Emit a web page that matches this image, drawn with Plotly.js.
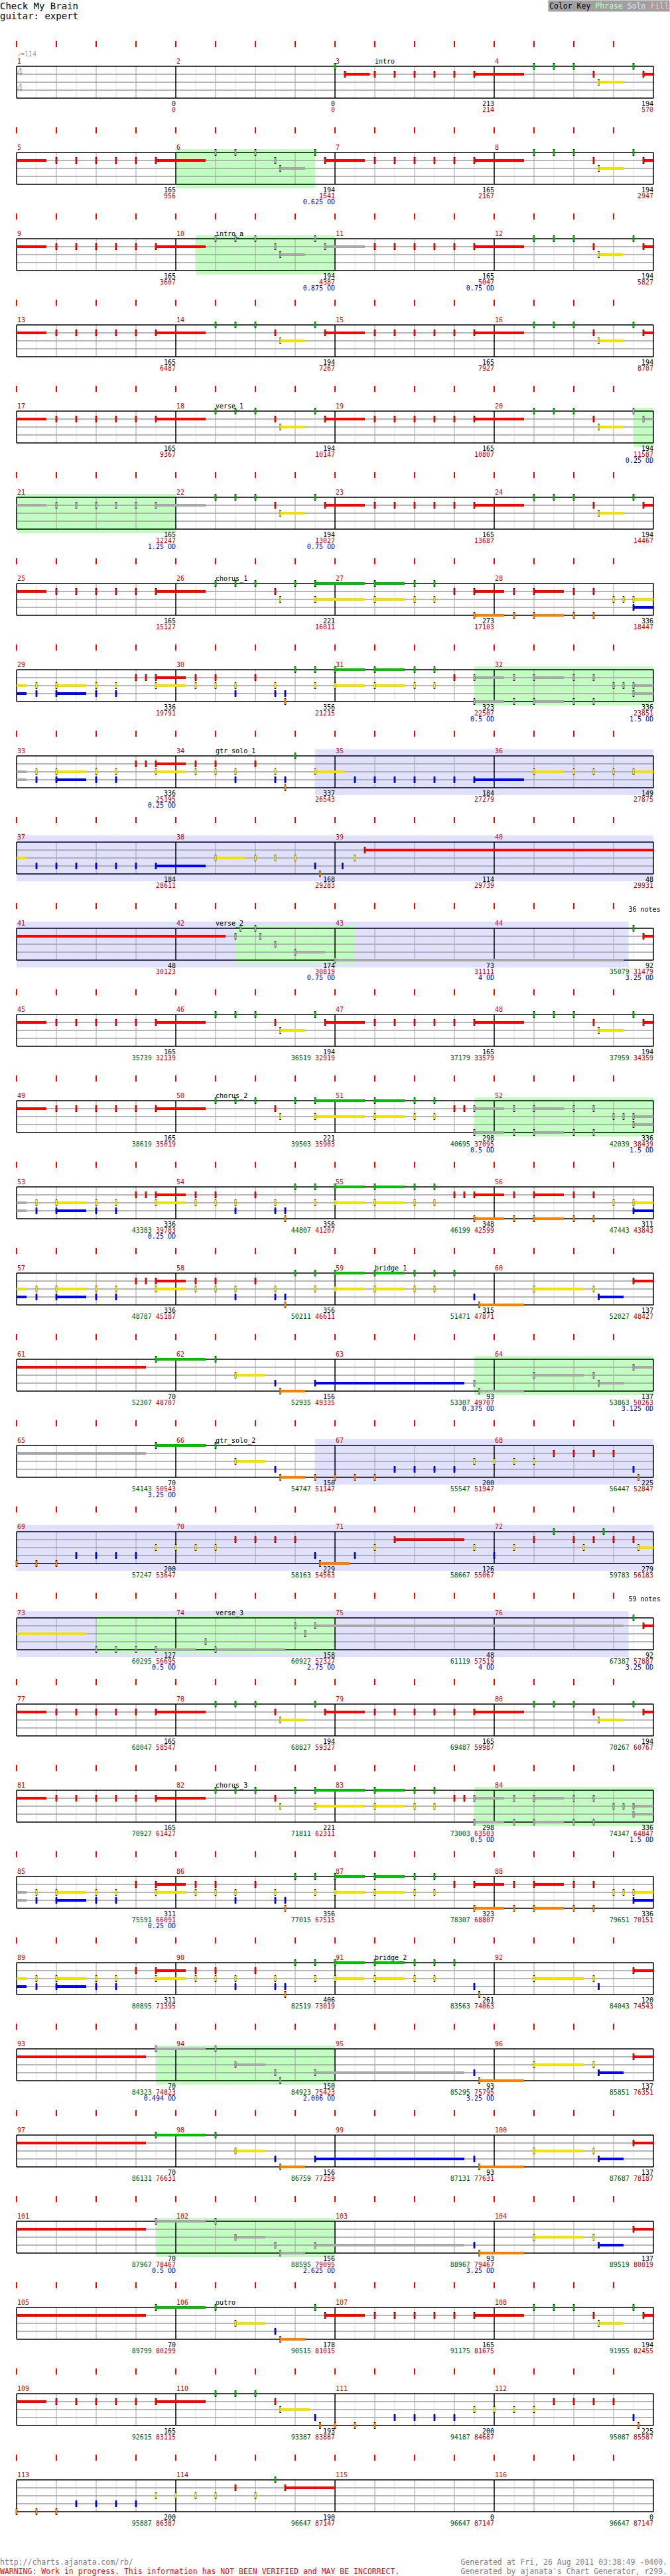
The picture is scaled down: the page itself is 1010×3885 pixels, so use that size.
<!DOCTYPE html>
<html><head><meta charset="utf-8">
<script src="https://cdn.plot.ly/plotly-3.0.1.min.js"></script>
<style>html,body{margin:0;padding:0;background:#fff}#chart{width:1010px;height:3885px}</style>
</head><body><div id="chart"></div>
<script>
// ---------------- DATA ----------------
const songTitle = 'Check My Brain';
const partLabel = 'guitar: expert';
const tempoLabel = '\u2669=114';
const timeSig = ['4', '4'];
const measureCount = 116;

const sections = [[3,1,'intro'],[10,1,'intro_a'],[18,1,'verse_1'],[26,1,'chorus_1'],[34,1,'gtr_solo_1'],
  [42,1,'verse_2'],[50,1,'chorus_2'],[59,1,'bridge_1'],[66,1,'gtr_solo_2'],[74,1,'verse_3'],
  [82,1,'chorus_3'],[91,1,'bridge_2'],[106,1,'outro']];

// star power phrases: [startMeasure, startBeat, endMeasure, endBeat]
const phrases = [[6,0,6,3.5],[10,0.5,11,0],[20,3.5,22,0],[31,3.5,33,0],[42,1.5,43,0.5],[51,3.5,53,0],
  [63,3.5,65,0],[73,2,75,0],[83,3.5,85,0],[93,3.5,95,0],[101,3.5,103,0]];
const solos = [[34,3.5,44,3.375],[66,3.5,76,3.375]];
const soloNoteLabels = ['36 notes', '59 notes'];

// notes: [measure, beat, frets, sustainBeats]
const riffA = [[1,'R',0],[1.5,'R',0],[2,'R',0],[2.5,'R',0],[3,'R',0],[3.5,'R',1.25]];
const riffB = [[1,'G',0],[1.5,'G',0],[2,'G',0],[2.5,'R',0],[2.625,'Y',0.625],[3.5,'G',0],[3.75,'R',1]];
const riffC = [[1,'G',0],[1.5,'G',0],[2,'G',0],[2.5,'R',0],[2.625,'Y',0],[3,'G',0],[3.5,'GY',1.25]];
const riffAMeasures = [3,5,7,9,11,13,15,17,19,21,23,25,45,47,49,77,79,81,107,109];
const riffBMeasures = [4,6,8,10,12,14,16,18,20,22,24,46,48,78,80,108];
const riffCMeasures = [26,50,82];

const introNotes = [[3,0,'G',0],[3,0.25,'R',0.625]];

const chorus1Notes = [
 [27,1,'GY',.75],[27,2,'GY',0],[27,2.5,'GY',0],[27,3,'R',0],[27,3.5,'RO',.75],
 [28,.5,'RO',0],[28,1,'RO',.75],[28,2,'RO',0],[28,2.5,'RO',0],[28,3,'Y',0],[28,3.25,'Y',0],[28,3.5,'YB',.75],
 [29,.5,'YB',0],[29,1,'YB',.75],[29,2,'YB',0],[29,2.5,'YB',0],[29,3,'R',0],[29,3.25,'R',0],[29,3.5,'RY',.75],
 [30,.5,'RY',0],[30,1,'RY',0],[30,1.5,'YB',0],[30,2,'R',0],[30,2.5,'YB',0],[30,2.75,'BO',0],[30,3,'G',0],[30,3.5,'GY',0],
 [31,0,'GY',.75],[31,1,'GY',.75],[31,2,'GY',0],[31,2.5,'GY',0],[31,3,'R',0],[31,3.5,'RO',.75],
 [32,.5,'RO',0],[32,1,'RO',.75],[32,2,'RO',0],[32,2.5,'RO',0],[32,3,'Y',0],[32,3.25,'Y',0],[32,3.5,'YB',.75],
 [33,.5,'YB',0],[33,1,'YB',.75],[33,2,'YB',0],[33,2.5,'YB',0],[33,3,'R',0],[33,3.25,'R',0],[33,3.5,'RY',.75],
 [34,.5,'RY',0],[34,1,'RY',0],[34,1.5,'YB',0],[34,2,'R',0],[34,2.5,'YB',0],[34,2.75,'BO',0],[34,3,'G',0]
];

const solo1Notes = [
 [34,3.5,'Y',.75],
 [35,.5,'B',0],[35,1,'B',0],[35,1.5,'B',0],[35,2,'B',0],[35,2.5,'B',0],[35,3,'B',0],[35,3.5,'B',1.25],
 [36,1,'Y',.75],[36,2,'Y',0],[36,2.5,'Y',0],[36,3,'Y',0],[36,3.5,'Y',.75],
 [37,.5,'B',0],[37,1,'B',0],[37,1.5,'B',0],[37,2,'B',0],[37,2.5,'B',0],[37,3,'B',0],[37,3.5,'B',1.25],
 [38,1,'Y',.75],[38,2,'Y',0],[38,2.5,'Y',0],[38,3,'Y',0],[38,3.5,'B',0],[38,3.625,'O',0],
 [39,.1875,'B',0],[39,.5,'Y',0],[39,.75,'R',12.5]
];

const verse2Notes = [
 [42,1.5,'R',0],[42,1.625,'G',0],[42,2,'G',0],[42,2.125,'R',0],[42,2.5,'Y',0],[42,3,'B',.75],
 [43,0,'O',7.25],
 [44,3.5,'G',0],[44,3.75,'R',1]
];

const chorus2Notes = [
 [51,1,'GY',.75],[51,2,'GY',0],[51,2.5,'GY',0],[51,3,'R',0],[51,3.25,'R',0],[51,3.5,'RO',.75],
 [52,.5,'RO',0],[52,1,'RO',.75],[52,2,'RO',0],[52,2.5,'RO',0],[52,3,'Y',0],[52,3.25,'Y',0],[52,3.5,'YB',.75],
 [53,.5,'YB',0],[53,1,'YB',.75],[53,2,'YB',0],[53,2.5,'YB',0],[53,3,'R',0],[53,3.25,'R',0],[53,3.5,'RY',.75],
 [54,.5,'RY',0],[54,1,'RY',0],[54,1.5,'YB',0],[54,2,'R',0],[54,2.5,'YB',0],[54,2.75,'BO',0],[54,3,'G',0],[54,3.5,'GY',0],
 [55,0,'GY',.75],[55,1,'GY',.75],[55,2,'GY',0],[55,2.5,'GY',0],[55,3,'R',0],[55,3.25,'R',0],[55,3.5,'RO',.75],
 [56,.5,'RO',0],[56,1,'RO',.75],[56,2,'RO',0],[56,2.5,'RO',0],[56,3,'Y',0],[56,3.5,'YB',.75],
 [57,.5,'YB',0],[57,1,'YB',.75],[57,2,'YB',0],[57,2.5,'YB',0],[57,3,'R',0],[57,3.25,'R',0],[57,3.5,'RY',.75],
 [58,.5,'RY',0],[58,1,'RY',0],[58,1.5,'YB',0],[58,2,'R',0],[58,2.5,'YB',0],[58,2.75,'BO',0],[58,3,'G',0],[58,3.5,'GY',0]
];

const bridge1Notes = [
 [59,0,'GY',.75],[59,1,'GY',.75],[59,2,'GY',0],[59,2.5,'GY',0],[59,3,'G',0],[59,3.5,'B',0],[59,3.625,'O',1.125],
 [60,1,'Y',1.25],[60,2.5,'Y',0],[60,2.625,'B',.625],[60,3.5,'R',3.75],
 [61,3.5,'G',1.25],
 [62,1,'G',0],[62,1.5,'Y',.75],[62,2.5,'B',0],[62,2.625,'O',.625],[62,3.5,'B',3.75],
 [63,3.5,'B',0],[63,3.625,'O',1.125],
 [64,1,'Y',1.25],[64,2.5,'Y',0],[64,2.625,'B',.625],[64,3.5,'R',3.75],
 [65,3.5,'G',1.25],
 [66,1,'G',0],[66,1.5,'Y',.75],[66,2.5,'B',0],[66,2.625,'O',.625]
];

const solo2Notes = [
 [66,3.5,'O',0],
 [67,0,'O',0],[67,.5,'O',0],[67,1,'O',0],[67,1.5,'B',0],[67,2,'B',0],[67,2.5,'B',0],[67,3,'B',0],[67,3.5,'Y',0],
 [68,0,'Y',0],[68,.5,'Y',0],[68,1,'Y',0],[68,1.5,'R',0],[68,2,'R',0],[68,2.5,'R',0],[68,3,'R',0],[68,3.5,'B',0],[68,3.625,'O',0],
 [69,0,'O',0],[69,.5,'O',0],[69,1,'O',0],[69,1.5,'B',0],[69,2,'B',0],[69,2.5,'B',0],[69,3,'B',0],[69,3.5,'Y',0],
 [70,0,'Y',0],[70,.5,'Y',0],[70,1,'Y',0],[70,1.5,'R',0],[70,2,'R',0],[70,2.5,'R',0],[70,3,'R',0],[70,3.5,'B',0],[70,3.625,'O',.75],
 [71,.5,'B',0],[71,1,'Y',0],[71,1.5,'R',1.75],[71,3.5,'Y',0],
 [72,0,'B',0],[72,.5,'Y',0],[72,1,'R',0],[72,1.5,'G',0],[72,2,'R',0],[72,2.25,'Y',0],[72,2.5,'R',0],[72,2.75,'G',0],[72,3,'R',0],[72,3.5,'R',0],[72,3.625,'Y',2.125],
 [73,2,'O',0],[73,2.5,'O',0],[73,3,'O',0],[73,3.5,'O',1],
 [74,.75,'B',0],[74,1,'O',1.75],[74,3,'R',0],[74,3.25,'Y',0],[74,3.5,'R',7.75]
];

const verse3Notes = [[76,3.5,'G',0],[76,3.75,'R',1]];

const chorus3Notes = [
 [83,1,'GY',.75],[83,2,'GY',0],[83,2.5,'GY',0],[83,3,'R',0],[83,3.25,'R',0],[83,3.5,'RO',.75],
 [84,.5,'RO',0],[84,1,'RO',.75],[84,2,'RO',0],[84,2.5,'RO',0],[84,3,'Y',0],[84,3.25,'Y',0],[84,3.5,'YB',.75],
 [85,.5,'YB',0],[85,1,'YB',.75],[85,2,'YB',0],[85,2.5,'YB',0],[85,3,'R',0],[85,3.5,'RY',.75],
 [86,.5,'RY',0],[86,1,'RY',0],[86,1.5,'YB',0],[86,2,'R',0],[86,2.5,'YB',0],[86,2.75,'BO',0],[86,3,'G',0],[86,3.5,'GY',0],
 [87,0,'GY',.75],[87,1,'GY',.75],[87,2,'GY',0],[87,2.5,'GY',0],[87,3,'R',0],[87,3.5,'RO',.75],
 [88,.5,'RO',0],[88,1,'RO',.75],[88,2,'RO',0],[88,2.5,'RO',0],[88,3,'Y',0],[88,3.25,'Y',0],[88,3.5,'YB',.75],
 [89,.5,'YB',0],[89,1,'YB',.75],[89,2,'YB',0],[89,2.5,'YB',0],[89,3,'R',0],[89,3.5,'RY',.75],
 [90,.5,'RY',0],[90,1,'RY',0],[90,1.5,'YB',0],[90,2,'R',0],[90,2.5,'YB',0],[90,2.75,'BO',0],[90,3,'G',0],[90,3.5,'GY',0]
];

const bridge2Notes = [
 [91,0,'GY',.75],[91,1,'GY',.75],[91,2,'GY',0],[91,2.5,'GY',0],[91,3,'G',0],[91,3.5,'B',0],[91,3.625,'O',0],
 [92,1,'Y',1.25],[92,2.5,'Y',0],[92,2.625,'B',0],[92,3.5,'R',3.75],
 [93,3.5,'G',1.25],
 [94,1,'G',0],[94,1.5,'Y',.75],[94,2.5,'B',0],[94,2.625,'O',0],[94,3.5,'B',3.75],
 [95,3.5,'B',0],[95,3.625,'O',1.125],
 [96,1,'Y',1.25],[96,2.5,'Y',0],[96,2.625,'B',.625],[96,3.5,'R',3.75],
 [97,3.5,'G',1.25],
 [98,1,'G',0],[98,1.5,'Y',.75],[98,2.5,'B',0],[98,2.625,'O',.625],[98,3.5,'B',3.75],
 [99,3.5,'B',0],[99,3.625,'O',1.125],
 [100,1,'Y',1.25],[100,2.5,'Y',0],[100,2.625,'B',.625],[100,3.5,'R',3.75],
 [101,3.5,'G',1.25],
 [102,1,'G',0],[102,1.5,'Y',.75],[102,2.5,'B',0],[102,2.625,'O',.625],[102,3.5,'B',3.75],
 [103,3.5,'B',0],[103,3.625,'O',1.125],
 [104,1,'Y',1.25],[104,2.5,'Y',0],[104,2.625,'B',.625],[104,3.5,'R',3.75],
 [105,3.5,'G',1.25]
];

const outroNotes = [
 [106,1,'G',0],[106,1.5,'Y',.75],[106,2.5,'B',0],[106,2.625,'O',.625],[106,3.5,'G',0],[106,3.75,'R',1],
 [110,1,'G',0],[110,1.5,'G',0],[110,2,'G',0],[110,2.5,'R',0],[110,2.625,'Y',.75],[110,3.5,'B',0],[110,3.625,'O',0],
 [111,0,'O',0],[111,.5,'O',0],[111,1,'O',0],[111,1.5,'B',0],[111,2,'B',0],[111,2.5,'B',0],[111,3,'B',0],[111,3.5,'Y',0],
 [112,0,'Y',0],[112,.5,'Y',0],[112,1,'Y',0],[112,1.5,'R',0],[112,2,'R',0],[112,2.5,'R',0],[112,3,'R',0],[112,3.5,'B',0],[112,3.625,'O',0],
 [113,0,'O',0],[113,.5,'O',0],[113,1,'O',0],[113,1.5,'B',0],[113,2,'B',0],[113,2.5,'B',0],[113,3,'B',0],[113,3.5,'Y',0],
 [114,0,'Y',0],[114,.5,'Y',0],[114,1,'Y',0],[114,1.5,'R',0],[114,2,'Y',0],[114,2.5,'G',0],[114,2.75,'R',1.25]
];

// per-measure scores
const measureScores = [0,0,213,194, 165,194,165,194, 165,194,165,194, 165,194,165,194, 165,194,165,194,
  165,194,165,194, 165,221,273,336, 336,356,323,336, 336,337,184,149, 184,168,114,48, 48,174,73,92,
  165,194,165,194, 165,221,298,336, 336,356,348,311, 336,356,315,137, 70,156,93,137, 70,150,200,225,
  200,229,126,279, 127,158,48,92, 165,194,165,194, 165,221,298,336, 311,356,323,336, 311,406,261,120,
  70,150,93,137, 70,156,93,137, 70,156,93,137, 70,178,165,194, 165,193,200,225, 200,190,0,0];
const totalScores = [0,0,214,570, 956,1541,2167,2947, 3607,4387,5047,5827, 6487,7267,7927,8707,
  9367,10147,10807,11587, 12247,13027,13687,14467, 15127,16011,17103,18447, 19791,21215,22507,23851,
  25195,26543,27279,27875, 28611,29283,29739,29931, 30123,30819,31111,31479, 32139,32919,33579,34359,
  35019,35903,37095,38439, 39783,41207,42599,43843, 45187,46611,47871,48427, 48707,49335,49707,50263,
  50543,51147,51947,52847, 53647,54563,55067,56183, 56695,57327,57519,57887, 58547,59327,59987,60767,
  61427,62311,63503,64847, 66091,67515,68807,70151, 71395,73019,74063,74543, 74823,75423,75795,76351,
  76631,77259,77631,78187, 78467,79095,79467,80019, 80299,81015,81675,82455, 83115,83887,84687,85587,
  86387,87147,87147,87147];
const bonusScoreFirstMeasure = 44;
const bonusScores = [35079, 35739,36519,37179,37959, 38619,39503,40695,42039, 43383,44807,46199,47443,
  48787,50211,51471,52027, 52307,52935,53307,53863, 54143,54747,55547,56447, 57247,58163,58667,59783,
  60295,60927,61119,67387, 68047,68827,69487,70267, 70927,71811,73003,74347, 75591,77015,78307,79651,
  80895,82519,83563,84043, 84323,84923,85295,85851, 86131,86759,87131,87687, 87967,88595,88967,89519,
  89799,90515,91175,91955, 92615,93387,94187,95087, 95887,96647,96647,96647];
const odMarks = [[6,'0.625'],[10,'0.875'],[11,'0.75'],[20,'0.25'],[21,'1.25'],[22,'0.75'],[31,'0.5'],[32,'1.5'],
  [33,'0.25'],[42,'0.75'],[43,'4'],[44,'3.25'],[51,'0.5'],[52,'1.5'],[53,'0.25'],[63,'0.375'],[64,'3.125'],
  [65,'3.25'],[73,'0.5'],[74,'2.75'],[75,'4'],[76,'3.25'],[83,'0.5'],[84,'1.5'],[85,'0.25'],[93,'0.494'],
  [94,'2.006'],[95,'3.25'],[101,'0.5'],[102,'2.625'],[103,'3.25']];

const footerLeft = ['http://charts.ajanata.com/rb/', 'WARNING: Work in progress. This information has NOT BEEN VERIFIED and MAY BE INCORRECT.'];
const footerRight = ['Generated at Fri, 26 Aug 2011 03:38:49 -0400.', "Generated by ajanata's Chart Generator, r299."];

// ---------------- LAYOUT / DRAWING ----------------
const W = 1010, H = 3885;
const LEFT = 25, BW = 60, MPR = 4, BPM = 4, TOP0 = 100, ROWH = 130, LANE = 12;
const RIGHT = LEFT + MPR * BPM * BW;
const FONT = 'DejaVu Sans Mono, monospace';
const laneIdx = {G:0, R:1, Y:2, B:3, O:4};
const laneColor = {G:'#00c000', R:'#ff0000', Y:'#f2e000', B:'#0000ff', O:'#ff8000', S:'#a8a8a8'};
const rowCount = Math.ceil(measureCount / MPR);
const beatsPerRow = MPR * BPM;

const rowTop = r => TOP0 + r * ROWH;
const absBeat = (m, b) => (m - 1) * BPM + b;
const mRow = m => Math.floor((m - 1) / MPR);
const mX = m => LEFT + ((m - 1) % MPR) * BPM * BW;

function spanPieces(a0, a1) {
  const out = [];
  let s = a0;
  while (s < a1 - 1e-9) {
    const r = Math.floor(s / beatsPerRow + 1e-9);
    const e = Math.min(a1, (r + 1) * beatsPerRow);
    out.push({r, x0: LEFT + (s - r * beatsPerRow) * BW, x1: LEFT + (e - r * beatsPerRow) * BW});
    s = e;
  }
  return out;
}

const shapes = [];
function regionShapes(list, color, padTop, padBot) {
  list.forEach(([m0, b0, m1, b1]) => {
    spanPieces(absBeat(m0, b0), absBeat(m1, b1)).forEach(p => {
      shapes.push({type:'rect', xref:'x', yref:'y', layer:'below', x0:p.x0, x1:p.x1,
        y0: rowTop(p.r) - padTop, y1: rowTop(p.r) + 4 * LANE + padBot, fillcolor: color, line:{width:0}});
    });
  });
}
regionShapes(solos, '#e0e0ff', 10, 11);
regionShapes(phrases, '#c0ffc0', 5, 6);

const light = {x:[], y:[]}, mid = {x:[], y:[]}, dark = {x:[], y:[]}, laneL = {x:[], y:[]}, tick = {x:[], y:[]};
function seg(o, x0, y0, x1, y1) { o.x.push(x0, x1, null); o.y.push(y0, y1, null); }
for (let r = 0; r < rowCount; r++) {
  const t = rowTop(r), bot = t + 4 * LANE;
  for (let k = 0; k <= beatsPerRow * 2; k++) {
    const x = LEFT + k * BW / 2;
    if (k % (BPM * 2) === 0) seg(dark, x, t, x, bot);
    else if (k % 2 === 0) seg(mid, x, t, x, bot);
    else seg(light, x, t, x, bot);
  }
  for (let k = 0; k < beatsPerRow; k++) seg(tick, LEFT + k * BW, t - 38, LEFT + k * BW, t - 29);
  for (let l = 1; l < 4; l++) seg(laneL, LEFT, t + l * LANE, RIGHT, t + l * LANE);
  seg(dark, LEFT, t, RIGHT, t);
  seg(dark, LEFT, bot, RIGHT, bot);
}

const allNotes = [];
riffAMeasures.forEach(m => riffA.forEach(([b, f, s]) => allNotes.push([m, b, f, s])));
riffBMeasures.forEach(m => riffB.forEach(([b, f, s]) => allNotes.push([m, b, f, s])));
riffCMeasures.forEach(m => riffC.forEach(([b, f, s]) => allNotes.push([m, b, f, s])));
[introNotes, chorus1Notes, solo1Notes, verse2Notes, chorus2Notes, bridge1Notes, solo2Notes, verse3Notes,
 chorus3Notes, bridge2Notes, outroNotes].forEach(a => a.forEach(n => allNotes.push(n)));

const phraseAbs = phrases.map(([m0, b0, m1, b1]) => [absBeat(m0, b0), absBeat(m1, b1)]);
const groups = {};
const grp = k => groups[k] || (groups[k] = {sus:{x:[], y:[]}, bar:{x:[], y:[]}});
const blackBars = {x:[], y:[]};
allNotes.forEach(([m, b, frets, sus]) => {
  const a = absBeat(m, b);
  const gray = phraseAbs.some(([p0, p1]) => a >= p0 - 1e-9 && a < p1 - 1e-9);
  const r = Math.floor(a / beatsPerRow + 1e-9);
  const x = LEFT + (a - r * beatsPerRow) * BW;
  for (const f of frets) {
    const g = grp(gray ? 'S' : f);
    const lane = laneIdx[f];
    const y = rowTop(r) + lane * LANE;
    if (sus > 0) spanPieces(a, a + sus).forEach(p => {
      const yy = rowTop(p.r) + lane * LANE;
      seg(g.sus, p.x0, yy, p.x1, yy);
    });
    seg(blackBars, x, y - 5, x, y + 5);
    seg(g.bar, x, y - 4, x, y + 4);
  }
});

const traces = [];
function lineTrace(o, color, width) {
  traces.push({type:'scatter', mode:'lines', x:o.x, y:o.y, hoverinfo:'skip',
    line:{color, width, shape:'linear'}, connectgaps:false});
}
lineTrace(light, '#e2e2e2', 1);
lineTrace(mid, '#a0a0a0', 1);
lineTrace(laneL, '#a0a0a0', 1.5);
lineTrace(dark, '#000000', 1.5);
lineTrace(tick, '#ff0000', 2);
['S','G','R','Y','B','O'].forEach(k => { if (groups[k]) lineTrace(groups[k].sus, laneColor[k], 4); });
lineTrace(blackBars, '#000000', 2.5);
['S','G','R','Y','B','O'].forEach(k => { if (groups[k]) lineTrace(groups[k].bar, laneColor[k], 2.5); });

function textTrace(xs, ys, texts, color, size, pos) {
  traces.push({type:'scatter', mode:'text', x:xs, y:ys, text:texts, textposition:pos, hoverinfo:'skip',
    textfont:{family:FONT, size, color}});
}
const ms = Array.from({length: measureCount}, (_, i) => i + 1);
textTrace(ms.map(m => mX(m) + 1), ms.map(m => rowTop(mRow(m)) - 7), ms.map(String), '#cc0000', 10, 'middle right');
textTrace(sections.map(s => mX(s[0]) + s[1] * BW), sections.map(s => rowTop(mRow(s[0])) - 7),
  sections.map(s => s[2]), '#000000', 10, 'middle right');
const mEnd = m => mX(m) + BPM * BW;
textTrace(ms.map(mEnd), ms.map(m => rowTop(mRow(m)) + 57), measureScores.map(String), '#000000', 10, 'middle left');
textTrace(ms.map(mEnd), ms.map(m => rowTop(mRow(m)) + 66), ms.map((m, i) => {
  const bi = m - bonusScoreFirstMeasure;
  const red = totalScores[i];
  return bi >= 0 ? '<span style="color:#006000">' + bonusScores[bi] + '</span> ' + red : String(red);
}), '#cc0000', 10, 'middle left');
textTrace(odMarks.map(o => mEnd(o[0])), odMarks.map(o => rowTop(mRow(o[0])) + 75),
  odMarks.map(o => o[1] + ' OD'), '#0000dd', 10, 'middle left');
textTrace(solos.map(s => LEFT + (absBeat(s[2], s[3]) - mRow(s[2]) * beatsPerRow) * BW),
  solos.map(s => rowTop(mRow(s[2])) - 28), soloNoteLabels, '#000000', 10, 'middle right');
textTrace([LEFT], [rowTop(0) - 18], [tempoLabel], '#a0a0a0', 10, 'middle right');
textTrace([LEFT + 5, LEFT + 5], [rowTop(0) + 10, rowTop(0) + 34], timeSig, '#a8a8a8', 15, 'middle center');
textTrace([0, 0], [10, 25], [songTitle, partLabel], '#000000', 14, 'middle right');
traces.push({type:'scatter', mode:'text', x:[0, 0], y:[3865, 3879], text:footerLeft, textposition:'middle right',
  hoverinfo:'skip', textfont:{family:FONT, size:11.5, color:['#808080', '#ff0000']}});
textTrace([1006, 1006], [3865, 3879], footerRight, '#808080', 11.5, 'middle left');

const layout = {
  width: W, height: H, margin:{l:0, r:0, t:0, b:0, pad:0},
  paper_bgcolor:'#ffffff', plot_bgcolor:'#ffffff', showlegend:false, hovermode:false,
  xaxis:{range:[0, W], visible:false, fixedrange:true},
  yaxis:{range:[H, 0], visible:false, fixedrange:true},
  shapes,
  annotations:[{xref:'x', yref:'y', x:W, y:0, xanchor:'right', yanchor:'top', showarrow:false,
    bgcolor:'#a0a0a0', borderpad:1, font:{family:FONT, size:11.5, color:'#000000'},
    text:'Color Key <span style="color:#c0ffc0">Phrase</span> <span style="color:#e0e0ff">Solo</span> <span style="color:#ffc0c0">Fill</span>'}]
};
Plotly.newPlot('chart', traces, layout, {staticPlot:true, displayModeBar:false});
</script>
</body></html>
